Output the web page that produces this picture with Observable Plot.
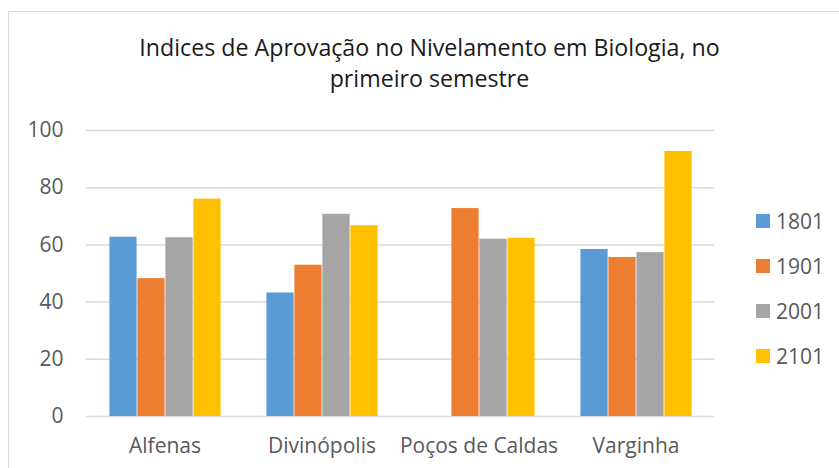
<!DOCTYPE html>
<html><head><meta charset="utf-8">
<script src="https://cdn.jsdelivr.net/npm/d3@7"></script>
<script src="https://cdn.jsdelivr.net/npm/@observablehq/plot@0.6"></script>
<style>
html,body{margin:0;padding:0;background:#fff;overflow:hidden;}
#wrap{position:relative;width:839px;height:468px;}
#border{position:absolute;left:8px;top:11px;width:900px;height:500px;border:1.5px solid #d9d9d9;box-sizing:border-box;}
#title{position:absolute;left:10px;width:839px;top:32px;text-align:center;font-family:"Open Sans",sans-serif;font-size:23.2px;line-height:31px;color:#1a1a1a;}
#chart{position:absolute;left:0;top:0;}
#legend{position:absolute;left:756px;top:0;font-family:"Open Sans",sans-serif;font-size:21px;color:#595959;}
.item{position:absolute;left:0;white-space:nowrap;display:flex;align-items:center;}
.sw{width:14px;height:14px;margin-right:6px;}
</style></head>
<body><div id="wrap"><div id="border"></div><div id="chart"></div>
<div id="title">Indices de Aprovação no Nivelamento em Biologia, no<br>primeiro semestre</div>
<div id="legend"></div></div>
<script>
const cities = ["Alfenas", "Divinópolis", "Poços de Caldas", "Varginha"];
const series = ["1801", "1901", "2001", "2101"];
const v1801 = [62.7, 43.2, null, 58.4];
const v1901 = [48.2, 52.9, 72.7, 55.6];
const v2001 = [62.5, 70.7, 62.0, 57.3];
const v2101 = [76.0, 66.7, 62.3, 92.7];
const yTicks = [0, 20, 40, 60, 80, 100];
const colors = ["#5B9BD5", "#ED7D31", "#A5A5A5", "#FFC000"];

const values = [v1801, v1901, v2001, v2101];
const data = [];
cities.forEach((c, i) => series.forEach((s, j) => {
  const v = values[j][i];
  if (v != null) data.push({city: c, series: s, value: v});
}));

const chart = Plot.plot({
  width: 839, height: 468,
  marginLeft: 85, marginRight: 124, marginTop: 130, marginBottom: 52,
  style: {fontFamily: "'Open Sans', sans-serif", fontSize: "21px", color: "#595959", background: "transparent"},
  fx: {domain: cities, padding: 0, label: null, axis: "bottom", tickSize: 0, tickPadding: 22},
  x: {domain: series, paddingInner: 0, paddingOuter: 0.739, axis: null},
  y: {domain: [0, 100], ticks: yTicks, label: null, tickSize: 0, tickPadding: 23},
  color: {domain: series, range: colors},
  marks: [
    Plot.ruleY(yTicks, {stroke: "#d9d9d9", strokeWidth: 1.5}),
    Plot.barY(data, {fx: "city", x: "series", y: "value", fill: "series", insetLeft: 0.4, insetRight: 0.4})
  ]
});
document.getElementById("chart").appendChild(chart);

const leg = document.getElementById("legend");
series.forEach((s, i) => {
  const d = document.createElement("div");
  d.className = "item";
  d.style.top = (221 + i * 45 - 14) + "px";
  d.style.height = "28px";
  d.innerHTML = `<div class="sw" style="background:${colors[i]}"></div><span>${s}</span>`;
  leg.appendChild(d);
});
</script></body></html>
